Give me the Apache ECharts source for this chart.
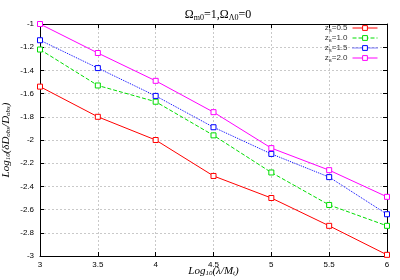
<!DOCTYPE html>
<html><head><meta charset="utf-8">
<script src="https://cdn.jsdelivr.net/npm/echarts@6/dist/echarts.min.js"></script>
<style>html,body{margin:0;padding:0;background:#fff}#c{width:400px;height:280px}</style>
</head><body><div id="c"></div>
<script>
const xs = [3, 3.5, 4, 4.5, 5, 5.5, 6];
const z05 = [-1.54, -1.80, -2.00, -2.31, -2.50, -2.74, -2.99];
const z10 = [-1.22, -1.53, -1.67, -1.96, -2.28, -2.56, -2.74];
const z15 = [-1.14, -1.38, -1.62, -1.89, -2.12, -2.32, -2.64];
const z20 = [-1.00, -1.25, -1.49, -1.76, -2.07, -2.26, -2.49];
const names = ['z{s|s}=0.5', 'z{s|s}=1.0', 'z{s|s}=1.5', 'z{s|s}=2.0'];
const colors = ['#ff0000', '#00dd00', '#0000ff', '#ff00ff'];
const types = ['solid', 'dashed', 'dotted', 'solid'];
const vals = [z05, z10, z15, z20];

const serif = '"Liberation Serif", "DejaVu Serif", serif';
const sans = '"Liberation Sans", Arial, sans-serif';
const chart = echarts.init(document.getElementById('c'));
const gridLine = {show: true, lineStyle: {color: '#bbbbbb', type: [2, 2], width: 0.8}};
chart.setOption({
  animation: false,
  title: {
    text: 'Ω{s|m0}=1,Ω{s|Λ0}=0', left: 213, top: 3, textAlign: 'center',
    textStyle: {fontFamily: serif, fontSize: 12, fontWeight: 'normal', color: '#000',
      rich: {s: {fontFamily: serif, fontSize: 8, verticalAlign: 'bottom', padding: [6, 0, 0, 0], color: '#000'}}}
  },
  legend: {
    right: 22, top: 24, orient: 'vertical', align: 'right', itemGap: 1,
    itemWidth: 25, itemHeight: 6, padding: 0,
    itemStyle: {borderWidth: 1},
    lineStyle: {width: 1},
    data: names,
    textStyle: {fontFamily: sans, fontSize: 8, color: '#333', padding: [0, 0, 0, 0],
      rich: {s: {fontFamily: sans, fontSize: 6, verticalAlign: 'bottom', padding: [4, 0, 0, 0]}}}
  },
  grid: {left: 40, right: 13, top: 24, bottom: 24, outerBoundsMode: 'none', containLabel: false},
  xAxis: [{
    type: 'value', min: 3, max: 6, interval: 0.5,
    axisLine: {show: true, onZero: false, lineStyle: {color: '#000', width: 1}},
    axisTick: {inside: true, length: 4, lineStyle: {color: '#000'}},
    axisLabel: {fontFamily: sans, fontSize: 8, color: '#000', margin: 5},
    splitLine: gridLine,
    name: 'Log{s|10}(λ/M{s|t})', nameLocation: 'middle', nameGap: 10, nameMoveOverlap: false,
    nameTextStyle: {fontFamily: serif, fontStyle: 'italic', fontSize: 11, color: '#000',
      rich: {s: {fontFamily: serif, fontStyle: 'italic', fontSize: 7, verticalAlign: 'bottom', padding: [4, 0, 0, 0]}}}
  }, {
    type: 'value', min: 3, max: 6, interval: 0.5, position: 'top',
    axisLine: {show: true, onZero: false, lineStyle: {color: '#000', width: 1}},
    axisTick: {inside: true, length: 4, lineStyle: {color: '#000'}},
    axisLabel: {show: false}, splitLine: {show: false}
  }],
  yAxis: [{
    type: 'value', min: -3, max: -1, interval: 0.2,
    axisLine: {show: true, onZero: false, lineStyle: {color: '#000', width: 1}},
    axisTick: {inside: true, length: 4, lineStyle: {color: '#000'}},
    axisLabel: {fontFamily: sans, fontSize: 8, color: '#000', margin: 6,
      formatter: v => String(Math.round(v * 10) / 10)},
    splitLine: gridLine,
    name: 'Log{s|10}(δD{s|obs}/D{s|obs})', nameLocation: 'middle', nameGap: 28, nameRotate: 90, nameMoveOverlap: false,
    nameTextStyle: {fontFamily: serif, fontStyle: 'italic', fontSize: 11, color: '#000',
      rich: {s: {fontFamily: serif, fontStyle: 'italic', fontSize: 7, verticalAlign: 'bottom', padding: [4, 0, 0, 0]}}}
  }, {
    type: 'value', min: -3, max: -1, interval: 0.2, position: 'right',
    axisLine: {show: true, onZero: false, lineStyle: {color: '#000', width: 1}},
    axisTick: {inside: true, length: 4, lineStyle: {color: '#000'}},
    axisLabel: {show: false}, splitLine: {show: false}
  }],
  series: vals.map((v, i) => ({
    name: names[i], type: 'line', xAxisIndex: 0, yAxisIndex: 0,
    data: xs.map((x, j) => [x, v[j]]),
    symbol: 'rect', symbolSize: 5,
    itemStyle: {color: '#fff', borderColor: colors[i], borderWidth: 1},
    lineStyle: {color: colors[i], width: 1, type: types[i]},
    z: 10 + i
  }))
});
</script></body></html>
